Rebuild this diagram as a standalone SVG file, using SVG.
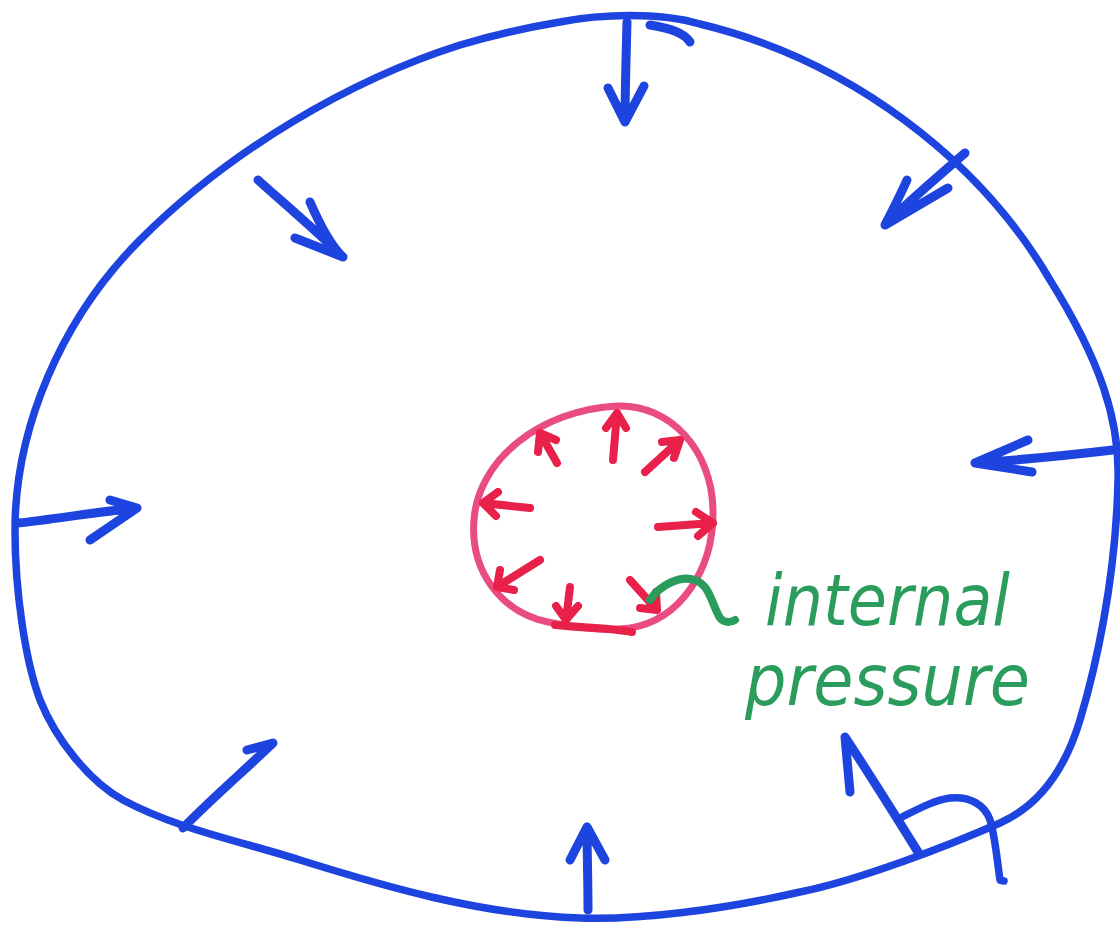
<svg xmlns="http://www.w3.org/2000/svg" width="1120" height="936" viewBox="0 0 1120 936">
<style>
.b{fill:none;stroke:#1e44e0;stroke-width:7.5;stroke-linecap:round;stroke-linejoin:round}
.ba{fill:none;stroke:#1e44e0;stroke-width:9;stroke-linecap:round;stroke-linejoin:round}
.r{fill:none;stroke:#e84c80;stroke-width:7;stroke-linecap:round;stroke-linejoin:round}
.ra{fill:none;stroke:#e8204a;stroke-width:8;stroke-linecap:round;stroke-linejoin:round}
.g{fill:none;stroke:#2a9d5c;stroke-width:8;stroke-linecap:round;stroke-linejoin:round}
.t{font-family:"DejaVu Sans","Liberation Sans",sans-serif;font-style:italic;font-size:72px;fill:#2a9d5c}
</style>
<rect width="1120" height="936" fill="#ffffff"/>
<g id="outer-body">
<path class="b" d="M560,22 C600,14 660,12 700,24 C850,60 980,160 1050,280 C1100,360 1120,420 1118,480 C1116,580 1095,670 1080,720 C1065,770 1040,805 1000,823 C950,845 860,880 800,892 C720,910 640,920 580,918 C480,915 380,885 300,860 C236,840 175,828 123,800 C90,782 56,740 40,700 C25,660 15,590 15,530 C15,430 60,320 140,240 C230,150 350,80 460,45 C500,33 530,27 560,22 Z"/>
<path class="ba" d="M650,25 C670,28 685,34 690,42"/>
</g>
<g id="external-arrows">
<path class="ba" d="M627,22 C626,60 625,95 625,122 M608,88 L625,122 L644,86"/>
<path class="ba" d="M258,180 C280,200 310,225 343,257 M310,202 C320,225 330,245 343,257 L295,238"/>
<path class="ba" d="M965,153 C940,175 910,200 885,225 M907,180 C898,200 890,215 885,225 L948,188"/>
<path class="ba" d="M18,523 C50,520 95,512 137,508 M110,500 L137,508 L90,540"/>
<path class="ba" d="M1113,450 C1070,455 1020,460 975,463 M1028,440 L975,463 L1032,472"/>
<path class="ba" d="M183,828 C210,800 245,770 273,743 L247,750"/>
<path class="ba" d="M588,910 C588,880 587,850 587,827 M570,860 L587,827 L605,860"/>
<path class="ba" d="M918,852 C895,815 870,775 845,737 L850,792"/>
<path class="b" d="M902,817 C920,808 935,800 950,798 C970,796 985,805 990,820 C995,835 997,860 1000,880 L1004,881"/>
</g>
<g id="inner-cavity">
<path class="r" d="M617,406 C670,404 712,450 713,510 C714,570 680,620 630,628 C600,632 570,626 548,622 C500,612 470,570 474,520 C478,460 540,410 617,406 Z"/>
</g>
<g id="internal-arrows">
<path class="ra" d="M613,460 L617,413 M606,428 L617,413 L626,428"/>
<path class="ra" d="M557,463 L540,433 M538,452 L540,433 L556,440"/>
<path class="ra" d="M645,472 L680,440 M662,442 L680,440 L674,458"/>
<path class="ra" d="M530,508 L483,503 M498,492 L483,503 L496,516"/>
<path class="ra" d="M658,527 L713,523 M696,512 L713,523 L698,536"/>
<path class="ra" d="M540,560 L497,587 M500,570 L497,587 L514,590"/>
<path class="ra" d="M570,587 L566,620 M556,606 L566,620 L578,606"/>
<path class="ra" d="M630,580 L657,610 M640,608 L657,610 L656,592"/>
<path class="ra" d="M555,625 C585,628 610,628 632,632"/>
</g>
<g id="label">
<path class="g" d="M650,600 C660,585 680,575 695,580 C710,585 712,605 720,618 C725,624 732,622 735,620"/>
<text class="t" x="765" y="625" textLength="245" lengthAdjust="spacingAndGlyphs">internal</text>
<text class="t" x="745" y="705" textLength="285" lengthAdjust="spacingAndGlyphs">pressure</text>
</g>
</svg>
